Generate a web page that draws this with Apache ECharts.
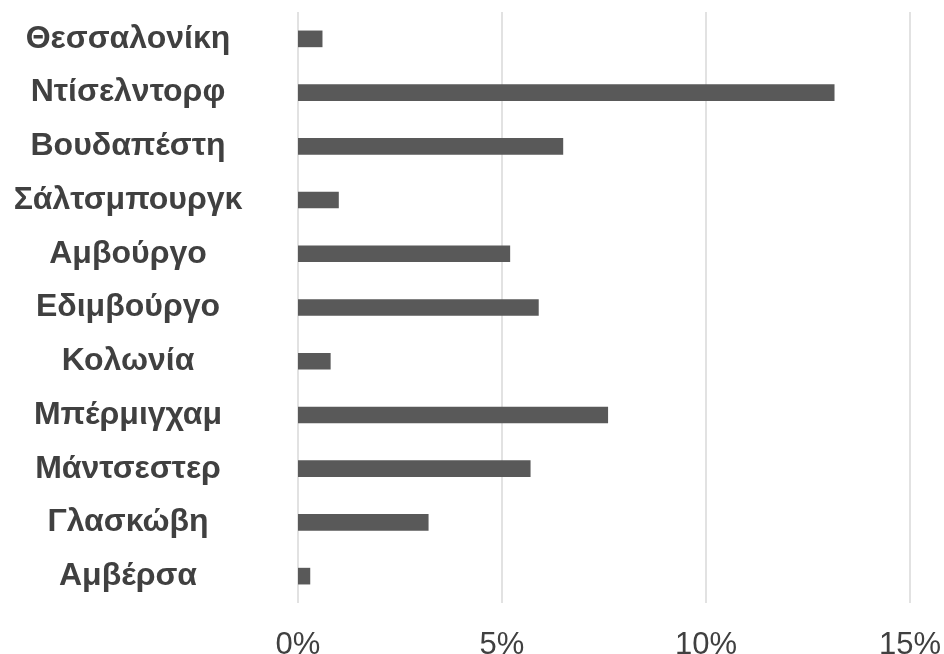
<!DOCTYPE html>
<html>
<head>
<meta charset="utf-8">
<script src="https://cdn.jsdelivr.net/npm/echarts@6/dist/echarts.min.js"></script>
<style>
html,body{margin:0;padding:0;background:#fff;}
#c{width:944px;height:654px;}
</style>
</head>
<body>
<div id="c"></div>
<script>
// Categories listed bottom-to-top (ECharts category y-axis starts at bottom)
var categories = ["Αμβέρσα","Γλασκώβη","Μάντσεστερ","Μπέρμιγχαμ","Κολωνία","Εδιμβούργο","Αμβούργο","Σάλτσμπουργκ","Βουδαπέστη","Ντίσελντορφ","Θεσσαλονίκη"];
var values = [0.3, 3.2, 5.7, 7.6, 0.8, 5.9, 5.2, 1.0, 6.5, 13.15, 0.6];
var xTicks = [0, 5, 10, 15];

var chart = echarts.init(document.getElementById('c'), null, {renderer: 'canvas'});
chart.setOption({
  animation: false,
  backgroundColor: '#ffffff',
  grid: {left: 298, right: 34, top: 12, bottom: 51, containLabel: false, outerBoundsMode: 'none'},
  xAxis: {
    type: 'value',
    min: xTicks[0],
    max: xTicks[xTicks.length - 1],
    interval: 5,
    axisLine: {show: false},
    axisTick: {show: false},
    splitLine: {show: true, lineStyle: {color: '#d9d9d9', width: 1.5}},
    axisLabel: {
      formatter: function (v) { return v + '%'; },
      fontFamily: 'Liberation Sans, Arial, sans-serif',
      fontSize: 31,
      color: '#404040',
      margin: 27
    }
  },
  yAxis: {
    type: 'category',
    data: categories,
    axisLine: {show: false},
    axisTick: {show: false},
    axisLabel: {
      fontFamily: 'Liberation Sans, Arial, sans-serif',
      fontSize: 32,
      fontWeight: 'bold',
      color: '#404040',
      align: 'center',
      margin: 170
    }
  },
  series: [{
    type: 'bar',
    data: values,
    barWidth: '31%',
    itemStyle: {color: '#595959'}
  }]
});
</script>
</body>
</html>
